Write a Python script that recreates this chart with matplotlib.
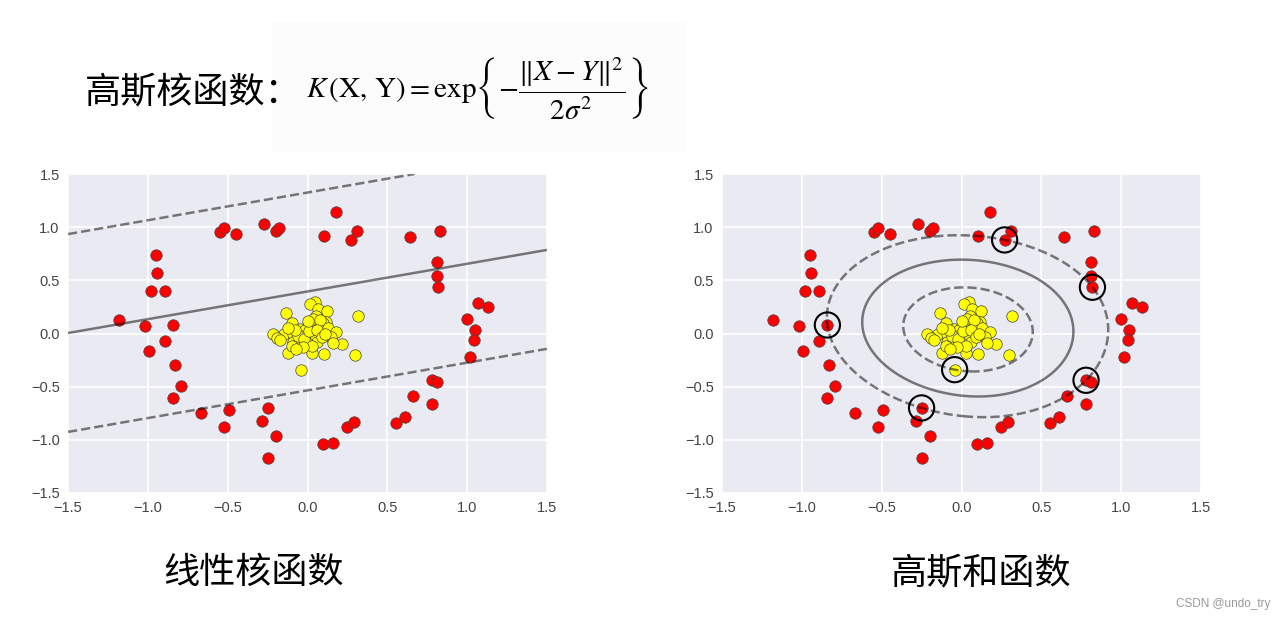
import numpy as np
import matplotlib
matplotlib.use('Agg')
import matplotlib.pyplot as plt
import seaborn as sns
from matplotlib.patches import Rectangle

# ---------------- data ----------------
red_x = [-1.18, -1.02, -0.84, -0.95, -0.94, -0.98, -0.89, -0.55, -0.525, -0.45,
         -0.27, -0.20, -0.18, -0.89, 0.18, 0.105, 0.27, 0.31, 0.64, 0.83,
         0.81, 0.81, 0.82, 1.07, 1.13, 1.00, 1.05, 1.04, 1.02, -0.99,
         -0.83, -0.79, -0.84, -0.67, -0.49, -0.52, -0.25, -0.285, -0.20, -0.25,
         0.095, 0.16, 0.25, 0.29, 0.555, 0.61, 0.66, 0.78, 0.81, 0.78]
red_y = [0.13, 0.07, 0.08, 0.74, 0.57, 0.40, 0.40, 0.95, 0.99, 0.94,
         1.03, 0.96, 0.99, -0.07, 1.14, 0.92, 0.88, 0.96, 0.905, 0.96,
         0.675, 0.54, 0.435, 0.29, 0.25, 0.14, 0.03, -0.06, -0.22, -0.16,
         -0.30, -0.49, -0.61, -0.745, -0.72, -0.88, -0.70, -0.82, -0.96, -1.17,
         -1.04, -1.03, -0.88, -0.83, -0.845, -0.785, -0.59, -0.44, -0.46, -0.66]

yel_x = [0.045, 0.018, 0.066, 0.124, -0.135, 0.316, 0.053, 0.036, -0.097, 0.118,
         0.099, 0.005, 0.126, -0.047, -0.016, -0.216, -0.15, 0.18, -0.089, 0.026,
         -0.041, -0.19, -0.17, 0.145, 0.214, 0.047, 0.062, -0.089, -0.058, -0.005,
         0.16, -0.12, 0.026, 0.103, 0.30, -0.043, -0.06, -0.02, 0.01, -0.08,
         0.03, -0.03, 0.08, -0.10, 0.06, -0.07, 0.09, -0.12, 0.0, 0.11]
yel_y = [0.30, 0.28, 0.23, 0.21, 0.19, 0.16, 0.16, 0.14, 0.10, 0.11,
         0.096, 0.08, 0.049, 0.04, 0.033, 0.00, 0.00, 0.01, 0.0, 0.0,
         -0.02, -0.045, -0.06, -0.036, -0.10, -0.06, -0.083, -0.077, -0.108, -0.092,
         -0.09, -0.186, -0.18, -0.19, -0.205, -0.34, -0.02, -0.05, 0.02, 0.03,
         -0.12, -0.13, 0.13, -0.12, 0.03, -0.15, -0.03, 0.05, 0.12, 0.00]

# linear model (left panel): f = w . p + b, contours at -1, 0, 1
lin_w = [-0.28, 1.075]
lin_b = -0.425

# RBF model (right panel): support vectors (indices into the data lists)
sv_red_idx = [2, 16, 22, 36, 47]
sv_yel_idx = [35]
rbf_gamma = 0.5

ticks = [-1.5, -1.0, -0.5, 0.0, 0.5, 1.0, 1.5]
tick_labels = ['\u22121.5', '\u22121.0', '\u22120.5', '0.0', '0.5', '1.0', '1.5']

# ---------------- style ----------------
sns.set_style('darkgrid')
plt.rcParams['font.family'] = ['Noto Sans CJK SC', 'DejaVu Sans']
plt.rcParams['mathtext.fontset'] = 'stix'

fig = plt.figure(figsize=(12.85, 6.2), dpi=100)
fig.patch.set_facecolor('white')

ax1 = fig.add_axes([68 / 1285, 1 - 493 / 620, 479 / 1285, 319 / 620])
ax2 = fig.add_axes([722 / 1285, 1 - 493 / 620, 479 / 1285, 319 / 620])

xx = np.linspace(-1.5, 1.5, 300)
yy = np.linspace(-1.5, 1.5, 300)
GX, GY = np.meshgrid(xx, yy)

# linear decision function
F_lin = lin_w[0] * GX + lin_w[1] * GY + lin_b

# RBF decision function: solve hard-margin system on the support vectors
sv = np.array([[red_x[i], red_y[i]] for i in sv_red_idx] +
              [[yel_x[i], yel_y[i]] for i in sv_yel_idx])
lab = np.array([-1.0] * len(sv_red_idx) + [1.0] * len(sv_yel_idx))
n = len(sv)
d2 = ((sv[:, None, :] - sv[None, :, :]) ** 2).sum(-1)
K = np.exp(-rbf_gamma * d2)
A = np.zeros((n + 1, n + 1))
A[:n, :n] = K
A[:n, n] = 1.0
A[n, :n] = 1.0
rhs = np.concatenate([lab, [0.0]])
sol = np.linalg.solve(A, rhs)
coef, b0 = sol[:n], sol[n]
P = np.stack([GX.ravel(), GY.ravel()], axis=1)
dP = ((P[:, None, :] - sv[None, :, :]) ** 2).sum(-1)
F_rbf = (np.exp(-rbf_gamma * dP) @ coef + b0).reshape(GX.shape)

for ax, F in ((ax1, F_lin), (ax2, F_rbf)):
    ax.set_facecolor('#EAEAF2')
    ax.scatter(red_x, red_y, s=68, c='#FF0000', edgecolors='#444444', linewidths=0.5, zorder=2)
    ax.scatter(yel_x, yel_y, s=68, c='#FFFF00', edgecolors='#444444', linewidths=0.5, zorder=2)
    ax.contour(GX, GY, F, levels=[-1, 0, 1], colors='k', alpha=0.5,
               linestyles=['--', '-', '--'], linewidths=1.8, zorder=3)
    ax.set_xlim(-1.5, 1.5)
    ax.set_ylim(-1.5, 1.5)
    ax.set_xticks(ticks)
    ax.set_yticks(ticks)
    ax.set_xticklabels(tick_labels, fontfamily='Liberation Sans', fontsize=10.5, color='#444444')
    ax.set_yticklabels(tick_labels, fontfamily='Liberation Sans', fontsize=10.5, color='#444444')
    ax.tick_params(length=0, pad=6)
    ax.grid(True, color='white', linewidth=1.2)
    for s in ax.spines.values():
        s.set_visible(False)

ax2.scatter(sv[:, 0], sv[:, 1], s=330, facecolors='none', edgecolors='black', linewidths=1.5, zorder=4)

# ---------------- texts ----------------
fig.patches.append(Rectangle((272 / 1285, 1 - 152 / 620), 413 / 1285, 130 / 620,
                             transform=fig.transFigure, facecolor='#fcfcfc',
                             edgecolor='none', zorder=0))
fig.text(85 / 1285, 1 - 92 / 620, '高斯核函数：', fontsize=26, va='center', ha='left', color='black')
fig.text(306 / 1285, 1 - 89 / 620,
         r'$K\,(\mathrm{X},\,\mathrm{Y}) = \mathrm{exp}\left\{-\dfrac{\Vert X-Y\Vert^{2}}{2\sigma^{2}}\right\}$',
         fontsize=21, va='center', ha='left', color='black')
fig.text(254 / 1285, 1 - 573 / 620, '线性核函数', fontsize=26, va='center', ha='center', color='black')
fig.text(981 / 1285, 1 - 573 / 620, '高斯和函数', fontsize=26, va='center', ha='center', color='black')
fig.text(1270 / 1285, 1 - 604 / 620, 'CSDN @undo_try', fontsize=8.5, va='center', ha='right',
         color='#999999', fontfamily='Liberation Sans')

fig.savefig('out.png', dpi=100, facecolor='white')
